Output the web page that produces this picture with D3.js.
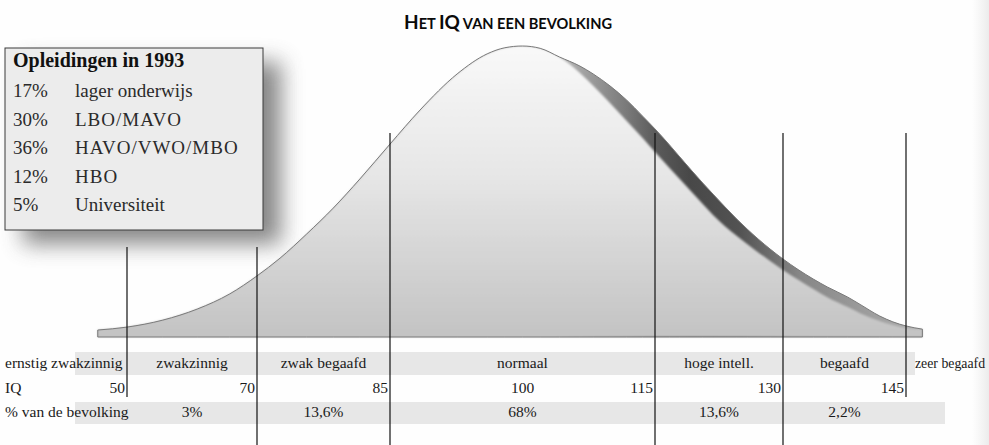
<!DOCTYPE html>
<html>
<head>
<meta charset="utf-8">
<script src="https://cdn.jsdelivr.net/npm/d3@7"></script>
<style>
  body { margin: 0; background: #fff; }
  svg { display: block; }
</style>
</head>
<body>
<svg id="chart" width="989" height="445"></svg>
<script>
// curve: IQ, height of the outer edge, height of the lit surface (peak = 100)
const curveIQ    = [45.5, 50, 55.5, 60.8, 65.8, 70, 72.6, 75.6, 78.6, 81.6, 85, 88.4, 92.6, 96, 98, 100, 102,
                    104.2, 106.5, 108, 109.9, 111.8, 113.6, 115, 116.7, 117.9, 120.6, 121.8, 124.6, 125.8, 128.5, 130,
                    133.7, 135.4, 137.9, 139.4, 141.8, 143.4, 145, 147];
const curveOuter = [2.4, 3.4, 5.8, 9.6, 14.8, 21, 27.1, 35.4, 44.3, 54.3, 66.3, 78, 90.4, 97.3, 99.4, 100, 99.2,
                    96.2, 93.1, 90.4, 86.3, 81.4, 75.9, 71.5, 66, 61.9, 52.9, 49.1, 40.5, 37.1, 30.2, 26.8,
                    19.9, 17.2, 13.7, 11.2, 7.2, 5.2, 3.8, 2.7];
const curveLit   = [2.4, 3.4, 5.8, 9.6, 14.8, 21, 27.1, 35.4, 44.3, 54.3, 66.3, 78, 90.4, 97.3, 99.4, 100, 99.2,
                    96.2, 90.7, 86.3, 80.4, 74.2, 68.4, 63.6, 58.1, 54.3, 45.7, 41.9, 34.7, 32, 26.1, 23,
                    16.5, 13.7, 10.3, 8.2, 5.5, 4.1, 3.1, 2.7];

const iqBreaks = [50, 70, 85, 115, 130, 145];
const iqTicks = [50, 70, 85, 100, 115, 130, 145];
const categories = ['ernstig zwakzinnig', 'zwakzinnig', 'zwak begaafd', 'normaal', 'hoge intell.', 'begaafd', 'zeer begaafd'];
const shares = ['', '3%', '13,6%', '68%', '13,6%', '2,2%', ''];

const eduShares = ['17%', '30%', '36%', '12%', '5%'];
const eduLevels = ['lager onderwijs', 'LBO/MAVO', 'HAVO/VWO/MBO', 'HBO', 'Universiteit'];

const width = 989, height = 445;
const serif = '"Liberation Serif", "DejaVu Serif", serif';

const svg = d3.select('#chart');
const defs = svg.append('defs');

// the drawing is not to scale: each IQ band gets its own width
const x = d3.scaleLinear()
  .domain(iqBreaks)
  .range([127, 257, 390, 655, 783, 906]);

const y = d3.scaleLinear()
  .domain([0, 100])
  .range([337, 46]);

const curveData = curveIQ.map((iq, i) => ({ iq, outer: curveOuter[i], lit: curveLit[i] }));

// gradients and filters
const litGrad = defs.append('linearGradient')
  .attr('id', 'litGrad')
  .attr('gradientUnits', 'userSpaceOnUse')
  .attr('x1', 0).attr('x2', 0).attr('y1', y(100)).attr('y2', y(0));
[[0, '#f9f9f9'], [0.45, '#e6e6e6'], [1, '#c3c3c3']].forEach(([o, c]) =>
  litGrad.append('stop').attr('offset', o).attr('stop-color', c));

const bandGrad = defs.append('linearGradient')
  .attr('id', 'bandGrad')
  .attr('gradientUnits', 'userSpaceOnUse')
  .attr('x1', 555).attr('x2', 930).attr('y1', 0).attr('y2', 0);
[[0, '#bcbcbc'], [0.1, '#999999'], [0.19, '#7a7a7a'], [0.27, '#5a5a5a'], [0.36, '#484848'],
 [0.49, '#525252'], [0.57, '#6c6c6c'], [0.65, '#868686'], [0.81, '#9a9a9a'], [1, '#b0b0b0']]
  .forEach(([o, c]) => bandGrad.append('stop').attr('offset', o).attr('stop-color', c));

defs.append('filter')
  .attr('id', 'blur')
  .attr('x', '-30%').attr('y', '-30%').attr('width', '160%').attr('height', '160%')
  .append('feGaussianBlur').attr('stdDeviation', 11);

defs.append('filter')
  .attr('id', 'soft')
  .append('feGaussianBlur').attr('stdDeviation', 1.2);

const edgeGrad = defs.append('linearGradient')
  .attr('id', 'edgeGrad');
[[0, '#d8d8d8', 0], [1, '#d0d0d0', 1]].forEach(([o, c, a]) =>
  edgeGrad.append('stop').attr('offset', o).attr('stop-color', c).attr('stop-opacity', a));

svg.append('rect').attr('width', width).attr('height', height).attr('fill', '#fefefe');
svg.append('rect').attr('x', 972).attr('width', 17).attr('height', height).attr('fill', 'url(#edgeGrad)').attr('opacity', 0.4);

// title in small caps
const title = svg.append('text')
  .attr('x', 508).attr('y', 29)
  .attr('text-anchor', 'middle')
  .attr('font-family', 'Lato, "Open Sans", sans-serif')
  .attr('font-weight', 'bold')
  .attr('fill', '#0a0a0a');
[['H', 19], ['ET ', 14.6], ['IQ', 19], [' VAN EEN BEVOLKING', 14.6]].forEach(([t, s]) =>
  title.append('tspan').attr('font-size', s).text(t));

// legend shadow (drawn first, sits behind the curve)
const legX = 5, legY = 48, legW = 258, legH = 182;
svg.append('rect')
  .attr('x', legX + 18).attr('y', legY + 14)
  .attr('width', legW).attr('height', legH)
  .attr('fill', '#727272')
  .attr('opacity', 0.85)
  .attr('filter', 'url(#blur)');

// bell curve: dark edge, lit surface, outline
const outerArea = d3.area()
  .x(d => x(d.iq)).y0(y(0)).y1(d => y(d.outer))
  .curve(d3.curveMonotoneX);
const litArea = d3.area()
  .x(d => x(d.iq)).y0(y(0)).y1(d => y(d.lit))
  .curve(d3.curveMonotoneX);

svg.append('path').datum(curveData)
  .attr('d', outerArea)
  .attr('fill', 'url(#bandGrad)');

svg.append('path').datum(curveData)
  .attr('d', litArea)
  .attr('fill', 'url(#litGrad)')
  .attr('filter', 'url(#soft)');

svg.append('path').datum(curveData)
  .attr('d', outerArea)
  .attr('fill', 'none')
  .attr('stroke', '#7a7a7a')
  .attr('stroke-width', 1);

// legend box
svg.append('rect')
  .attr('x', legX).attr('y', legY)
  .attr('width', legW).attr('height', legH)
  .attr('fill', '#ececec')
  .attr('stroke', '#3a3a3a')
  .attr('stroke-width', 1);

svg.append('text')
  .attr('x', 13).attr('y', 67)
  .attr('font-family', serif)
  .attr('font-size', 20)
  .attr('font-weight', 'bold')
  .attr('fill', '#111')
  .text('Opleidingen in 1993');

const legRows = svg.append('g')
  .attr('font-family', serif)
  .attr('font-size', 19)
  .attr('fill', '#2a2a2a');
eduShares.forEach((s, i) => {
  const yy = 97 + i * 28.6;
  legRows.append('text').attr('x', 13).attr('y', yy).text(s);
  legRows.append('text').attr('x', 75).attr('y', yy)
    .attr('letter-spacing', /[a-z]/.test(eduLevels[i]) ? 0 : 1)
    .text(eduLevels[i]);
});

// table stripes
svg.append('rect').attr('x', 75).attr('y', 352).attr('width', 840).attr('height', 23).attr('fill', '#e7e7e7');
svg.append('rect').attr('x', 75).attr('y', 402).attr('width', 870).attr('height', 22).attr('fill', '#e7e7e7');

// category boundaries
const lineTop = v => (x(v) < legX + legW + 10 ? 247 : 133);
const lineBottom = (v, i) => (i === 0 || i === iqBreaks.length - 1 ? 397 : height);
svg.append('g').selectAll('line')
  .data(iqBreaks)
  .join('line')
  .attr('x1', d => x(d)).attr('x2', d => x(d))
  .attr('y1', d => lineTop(d))
  .attr('y2', (d, i) => lineBottom(d, i))
  .attr('stroke', '#111')
  .attr('stroke-width', 1.2);

const table = svg.append('g')
  .attr('font-family', serif)
  .attr('font-size', 15.5)
  .attr('fill', '#1a1a1a');

// row 1: category names
const bounds = [null, ...iqBreaks, null];
categories.forEach((c, i) => {
  const t = table.append('text').attr('y', 368).text(c);
  if (i === 0) t.attr('x', 5);
  else if (i === categories.length - 1) t.attr('x', x(bounds[i]) + 9).attr('font-size', 13.8);
  else t.attr('x', x((bounds[i] + bounds[i + 1]) / 2)).attr('text-anchor', 'middle');
});

// row 2: IQ
table.append('text').attr('x', 5).attr('y', 393).text('IQ');
iqTicks.forEach(v => {
  const t = table.append('text').attr('y', 393).text(v);
  if (v === 100) t.attr('x', x(v)).attr('text-anchor', 'middle');
  else t.attr('x', x(v) - 2).attr('text-anchor', 'end');
});

// row 3: share of population
table.append('text').attr('x', 5).attr('y', 417).text('% van de bevolking');
shares.forEach((s, i) => {
  if (!s) return;
  table.append('text')
    .attr('x', x((bounds[i] + bounds[i + 1]) / 2))
    .attr('y', 417)
    .attr('text-anchor', 'middle')
    .text(s);
});
</script>
</body>
</html>
